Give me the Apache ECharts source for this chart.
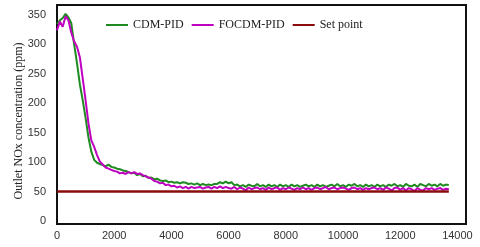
<!DOCTYPE html>
<html><head><meta charset="utf-8">
<script src="https://cdn.jsdelivr.net/npm/echarts@6/dist/echarts.min.js"></script>
<style>html,body{margin:0;padding:0;background:#fff}#c{width:480px;height:247px}</style>
</head><body><div id="c"></div>
<script>
const timeStep = 100; // s between samples
const cdmPid = [
335,341,345,352,346,336,300,268,232,205,
175,142,118,104,99,97,95,93,96,92,
91,89,88,86,85,83,81,82,78,80,
76,77,73,74,71,72,69,68,69,66,
67,65,66,64,66,65,63,64,62,64,
61,63,61,62,61,63,63,66,64,67,
64,66,61,62,59,61,58,62,60,59,
63,59,61,58,62,59,61,58,62,59,
61,58,62,59,61,58,60,62,59,61,
58,62,59,61,58,60,62,59,63,59,
61,58,62,60,63,59,61,58,62,59,
61,58,62,59,61,58,62,60,63,59,
61,58,63,60,59,62,58,63,61,59,
63,60,62,59,63,60,62,61];
const focdmPid = [
324,339,330,348,341,320,305,296,278,242,
205,166,137,126,112,101,96,91,89,87,
85,84,81,82,80,83,81,83,80,81,
78,76,74,72,68,67,64,65,61,62,
59,60,57,59,56,58,55,58,56,57,
58,55,57,58,55,58,56,59,56,58,
56,55,58,54,57,55,52,57,54,56,
57,54,56,53,57,54,56,57,53,56,
54,57,55,53,56,54,57,54,56,53,
56,57,54,56,58,54,56,57,54,56,
57,55,53,56,57,54,56,53,56,54,
56,57,54,56,53,57,55,52,56,57,
53,56,52,56,54,51,56,53,52,56,
54,56,53,55,56,53,55,54];
const setPoint = [[0,50],[13700,50]];
const xTicks = [0,2000,4000,6000,8000,10000,12000,14000];
const yTicks = [0,50,100,150,200,250,300,350];
const names = ['CDM-PID','FOCDM-PID','Set point'];

const toPairs = arr => arr.map((v,i)=>[i*timeStep, v]);
const chart = echarts.init(document.getElementById('c'));
chart.setOption({
  animation:false,
  grid:{left:57,right:14,top:5,bottom:23,show:true,borderColor:'#111',borderWidth:2,backgroundColor:'transparent'},
  legend:{data:names,left:101,top:14,itemWidth:22,itemHeight:2,itemGap:8,icon:'rect',
    textStyle:{fontFamily:'Liberation Serif',fontSize:12,color:'#222'}},
  xAxis:{type:'value',min:0,max:14300,
    axisLine:{show:false},splitLine:{show:false},
    axisTick:{show:false},
    axisLabel:{customValues:xTicks,margin:6,fontFamily:'Liberation Sans',fontSize:11,color:'#333',formatter:v=>String(v)}},
  yAxis:{type:'value',min:-5,max:367,
    axisLine:{show:false},splitLine:{show:false},
    axisTick:{show:false},
    axisLabel:{customValues:yTicks,margin:11,fontFamily:'Liberation Sans',fontSize:11,color:'#333',formatter:v=>String(v)}},
  graphic:[{type:'text',x:19,y:121,rotation:Math.PI/2,
    style:{text:'Outlet NOx concentration (ppm)',font:'12px "Liberation Serif"',fill:'#222',align:'center',verticalAlign:'middle'}}],
  series:[
    {name:names[0],type:'line',data:toPairs(cdmPid),showSymbol:false,color:'#1f8a1f',lineStyle:{width:2,color:'#1f8a1f'}},
    {name:names[1],type:'line',data:toPairs(focdmPid),showSymbol:false,color:'#c000c0',lineStyle:{width:2,color:'#c000c0'}},
    {name:names[2],type:'line',data:setPoint,showSymbol:false,color:'#8b0a0a',lineStyle:{width:2.5,color:'#8b0a0a'}}
  ]
});
</script></body></html>
